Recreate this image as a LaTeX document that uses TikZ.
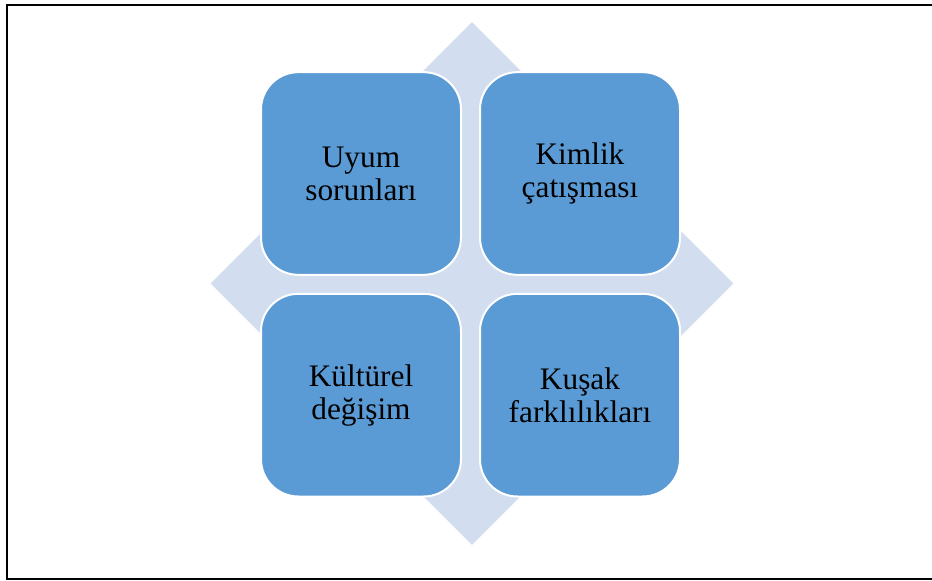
\documentclass[tikz,border=0pt]{standalone}
\usepackage{fontspec}
\setmainfont{Liberation Serif}
\usetikzlibrary{shapes.geometric,positioning}
\definecolor{tileblue}{HTML}{5B9BD5}
\definecolor{paleblue}{HTML}{D2DEEF}

\begin{document}
\begin{tikzpicture}[x=0.75pt,y=-0.75pt, node distance=12.75pt,
  every node/.style={font=\fontsize{23.5}{24.75}\selectfont},
  back/.style={diamond,fill=paleblue,inner sep=0pt,minimum width=392.25pt,minimum height=392.25pt},
  tile/.style={draw=white,line width=1.5pt,fill=tileblue,rounded corners=28pt,inner sep=0pt,
               minimum width=150pt,minimum height=152pt,text width=140pt,align=center}]
\useasboundingbox (0,0) rectangle (932,581);
\draw[line width=1.6pt] (932,5) -- (7,5) -- (7,579) -- (932,579);

\node[back] (bg) at (472,283.5) {};
\node[tile] (ul) at (361,173.5) {Uyum\\sorunları};
\node[tile,right=of ul] (ur) {Kimlik\\çatışması};
\node[tile,below=of ul] (ll) {Kültürel\\değişim};
\node[tile,below=of ur] (lr) {Kuşak\\farklılıkları};
\end{tikzpicture}
\end{document}
